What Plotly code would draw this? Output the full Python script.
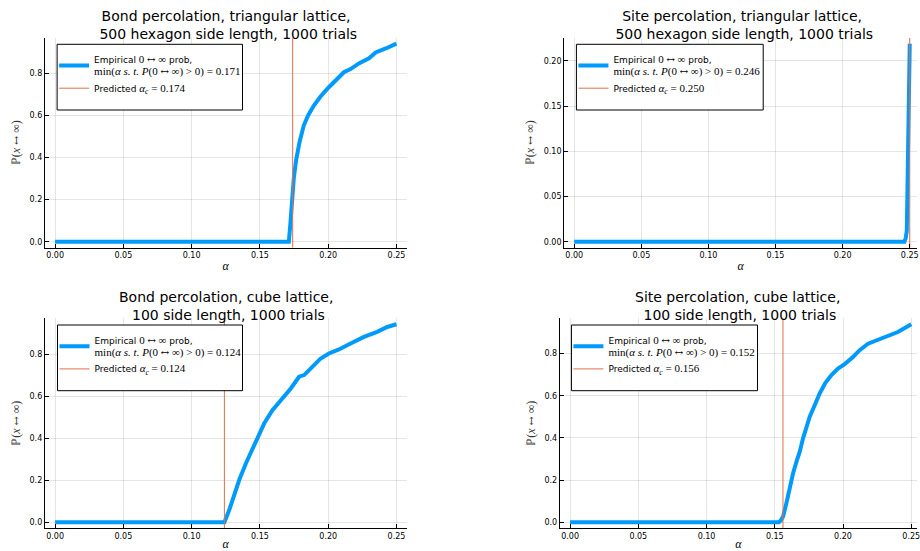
import plotly.graph_objects as go

BLUE = "#009AFA"
ORANGE = "#E36F47"
SANS = "DejaVu Sans"
MATH = "Liberation Serif"
ARROW_FONT = "DejaVu Serif"

# ---------------- data ----------------
bond_tri_alpha = [0.0, 0.1700, 0.1712, 0.1725, 0.1735, 0.1748, 0.1765, 0.1790, 0.1821, 0.1853,
                  0.1895, 0.1944, 0.2005, 0.2066, 0.2115, 0.2164, 0.2225, 0.2299, 0.2348,
                  0.2422, 0.2500]
bond_tri_p = [0.0, 0.0, 0.0, 0.10, 0.19, 0.30, 0.387, 0.473, 0.552, 0.600,
              0.647, 0.690, 0.734, 0.773, 0.805, 0.820, 0.847, 0.871, 0.899,
              0.918, 0.941]

site_tri_alpha = [0.0, 0.2460, 0.2470, 0.2478, 0.2490, 0.2500]
site_tri_p = [0.0, 0.0, 0.004, 0.012, 0.125, 0.219]

bond_cube_alpha = [0.0, 0.1240, 0.1276, 0.1313, 0.1349, 0.1398, 0.1446, 0.1495, 0.1532, 0.1592,
                   0.1653, 0.1726, 0.1787, 0.1824, 0.1884, 0.1945, 0.2005, 0.2079, 0.2164,
                   0.2262, 0.2359, 0.2432, 0.2500]
bond_cube_p = [0.0, 0.0, 0.060, 0.131, 0.203, 0.282, 0.353, 0.417, 0.472, 0.535,
               0.583, 0.638, 0.694, 0.702, 0.741, 0.781, 0.805, 0.824, 0.852,
               0.884, 0.908, 0.931, 0.944]

site_cube_alpha = [0.0, 0.1530, 0.1545, 0.1561, 0.1585, 0.1610, 0.1634, 0.1659, 0.1683, 0.1707,
                   0.1732, 0.1756, 0.1793, 0.1829, 0.1871, 0.1915, 0.1963, 0.2012, 0.2073,
                   0.2122, 0.2183, 0.2256, 0.2329, 0.2402, 0.2500]
site_cube_p = [0.0, 0.0, 0.010, 0.028, 0.091, 0.170, 0.233, 0.288, 0.335, 0.398,
               0.454, 0.501, 0.556, 0.611, 0.661, 0.698, 0.729, 0.750, 0.784,
               0.816, 0.847, 0.866, 0.882, 0.902, 0.939]

titles = [
    "Bond percolation, triangular lattice,<br> 500 hexagon side length, 1000 trials",
    "Site percolation, triangular lattice,<br> 500 hexagon side length, 1000 trials",
    "Bond percolation, cube lattice,<br> 100 side length, 1000 trials",
    "Site percolation, cube lattice,<br> 100 side length, 1000 trials",
]
empirical_min = [0.171, 0.246, 0.124, 0.152]
predicted_ac = [0.174, 0.250, 0.124, 0.156]
series_alpha = [bond_tri_alpha, site_tri_alpha, bond_cube_alpha, site_cube_alpha]
series_p = [bond_tri_p, site_tri_p, bond_cube_p, site_cube_p]

# ---------------- layout geometry (pixels of a 920x551 canvas) ----------------
W, H = 920, 551
x_domains = [[0.0489, 0.4435], [0.6152, 1.0], [0.0489, 0.4435], [0.6105, 1.0]]
y_domains = [[0.5505, 0.9316], [0.5505, 0.9316], [0.0412, 0.4223], [0.0412, 0.4223]]
x_view = [[-0.0075, 0.2575], [-0.0075, 0.2554], [-0.0075, 0.2575], [-0.0075, 0.2542]]
y_dticks = [0.2, 0.05, 0.2, 0.2]
y_formats = [".1f", ".2f", ".1f", ".1f"]
legend_boxes = [(57.3, 44.3, 243.3, 110.0), (578.3, 44.3, 765.7, 110.0),
                (57.7, 325.0, 243.3, 390.7), (573.3, 325.0, 760.0, 390.7)]
title_mid_px = [25.5, 25.5, 306.0, 306.0]
MATH_SIZE = 11


def padded(vals, frac=0.03):
    lo, hi = min(vals), max(vals)
    pad = frac * (hi - lo)
    return [lo - pad, hi + pad]


def m(txt, size=MATH_SIZE):
    """math-font run; arrows use a font with a wide arrow glyph"""
    parts = txt.split("↔")
    out = []
    for j, p in enumerate(parts):
        if p:
            out.append("<span style='font-family:%s;font-size:%spx'>%s</span>" % (MATH, size, p))
        if j < len(parts) - 1:
            out.append("<span style='font-family:%s;font-size:%spx'>↔</span>" % (ARROW_FONT, size - 1))
    return "".join(out)


fig = go.Figure()
layout = dict(
    width=W, height=H, autosize=False,
    margin=dict(l=0, r=0, t=0, b=0, pad=0),
    paper_bgcolor="white", plot_bgcolor="white",
    showlegend=True,
    font=dict(family=SANS, color="black"),
    annotations=[], shapes=[],
)

for i in range(4):
    k = "" if i == 0 else str(i + 1)
    xa, ya = "x" + k, "y" + k
    leg = "legend" + k
    yr = padded(series_p[i])

    emp_name = ("Empirical " + m("0 ↔ ∞") + " prob,<br>" +
                m("min(<i>α</i> <i>s. t. P</i>(0 ↔ ∞) &gt; 0) = %.3f" % empirical_min[i]))
    pred_name = "Predicted " + m("<i>α<sub>c</sub></i> = %.3f" % predicted_ac[i])

    fig.add_trace(go.Scatter(
        x=series_alpha[i], y=series_p[i], mode="lines", name=emp_name,
        line=dict(color=BLUE, width=4), xaxis=xa, yaxis=ya, legend=leg,
        hoverinfo="skip"))
    fig.add_trace(go.Scatter(
        x=[predicted_ac[i], predicted_ac[i]], y=yr, mode="lines", name=pred_name,
        line=dict(color=ORANGE, width=1), xaxis=xa, yaxis=ya, legend=leg,
        hoverinfo="skip"))

    axis_common = dict(
        showline=True, linecolor="black", linewidth=1, mirror=False,
        ticks="inside", ticklen=4, tickcolor="black", tickwidth=1,
        showgrid=True, gridcolor="rgba(0,0,0,0.1)", gridwidth=1,
        zeroline=False, tickfont=dict(family=SANS, size=8, color="black"),
        fixedrange=True, ticklabeloverflow="allow",
    )
    layout["xaxis" + k] = dict(
        axis_common, domain=x_domains[i], range=x_view[i], anchor=ya,
        tickmode="linear", tick0=0, dtick=0.05, tickformat=".2f",
        title=dict(text="<i>α</i>", font=dict(family=MATH, size=12), standoff=2),
    )
    layout["yaxis" + k] = dict(
        axis_common, domain=y_domains[i], range=yr, anchor=xa,
        tickmode="linear", tick0=0, dtick=y_dticks[i], tickformat=y_formats[i],
        title=dict(text="ℙ(<i>x</i> " + m("↔", 12) + " ∞)",
                   font=dict(family=MATH, size=12, color="#333"), standoff=6),
    )
    x0, y0, x1, y1 = legend_boxes[i]
    layout["shapes"].append(dict(
        type="rect", xref="paper", yref="paper", layer="above",
        x0=x0 / W, x1=x1 / W, y0=1 - y0 / H, y1=1 - y1 / H,
        line=dict(color="black", width=1), fillcolor="white"))
    layout[leg] = dict(
        x=(x0 - 3) / W, y=1 - (y0 + 3) / H, xanchor="left", yanchor="top",
        bgcolor="rgba(0,0,0,0)", borderwidth=0,
        font=dict(family=SANS, size=9, color="black"), tracegroupgap=0,
    )
    layout["annotations"].append(dict(
        text=titles[i], xref="paper", yref="paper",
        x=sum(x_domains[i]) / 2 if i in (0, 2) else (x_domains[i][0] * W + 178) / W,
        y=1 - title_mid_px[i] / H, xanchor="center", yanchor="middle",
        showarrow=False, font=dict(family=SANS, size=14, color="black"),
    ))

fig.update_layout(**layout)
fig.write_html(
    "out.html",
    config={"displayModeBar": False, "staticPlot": False},
    post_script="document.body.style.margin='0px';document.body.style.overflow='hidden';",
)
